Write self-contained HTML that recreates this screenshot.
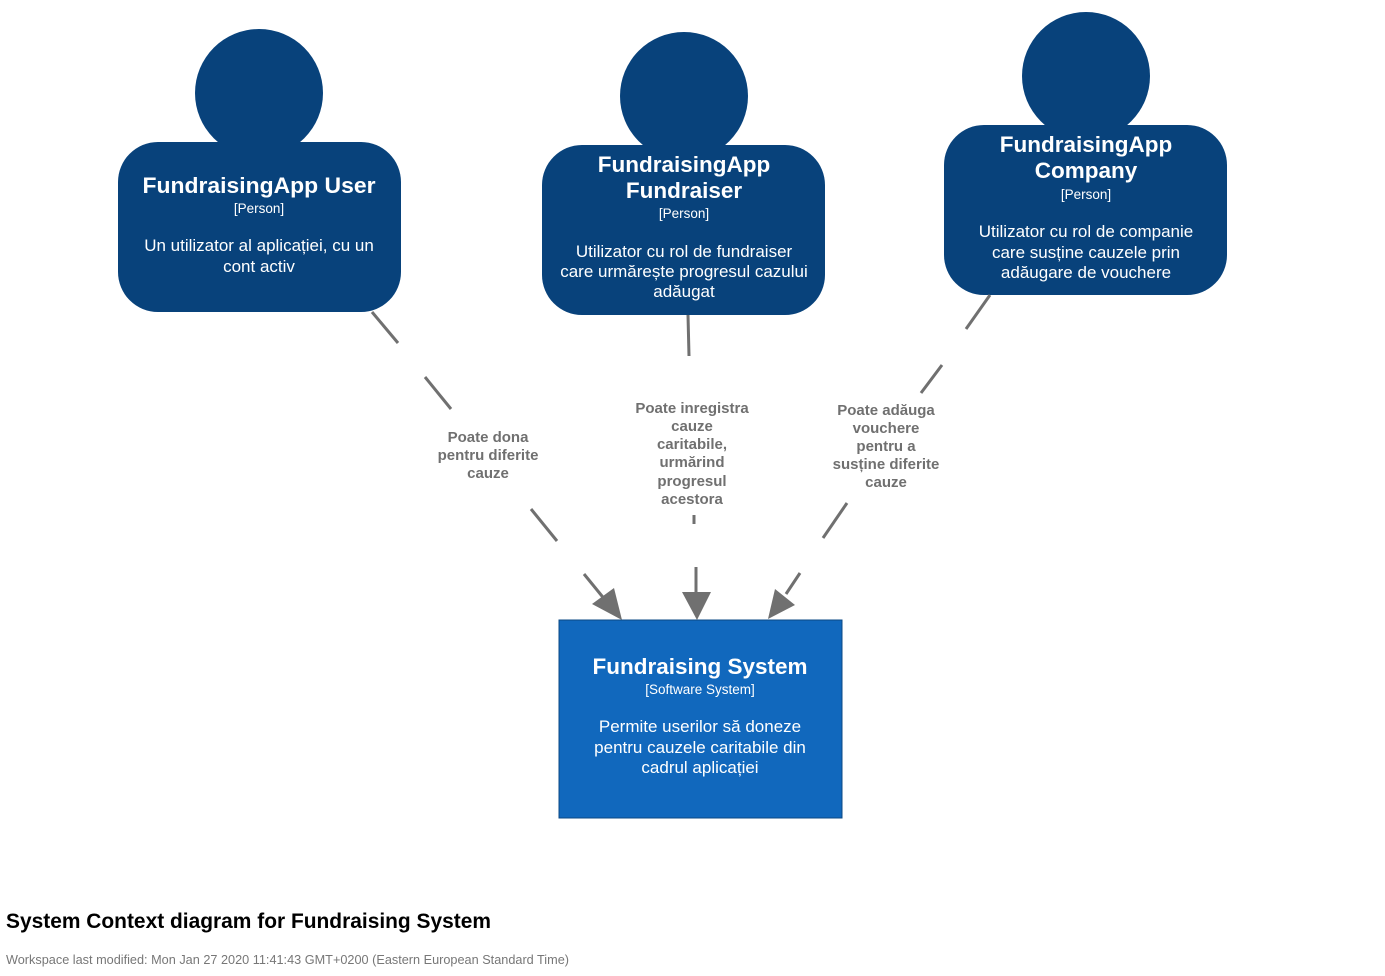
<!DOCTYPE html>
<html><head><meta charset="utf-8"><style>
body{margin:0;background:#fff;width:1385px;height:976px;overflow:hidden}
svg{display:block}
.t{font-family:"Liberation Sans","DejaVu Sans",sans-serif}
</style></head><body>
<svg width="1385" height="976" viewBox="0 0 1385 976" xmlns="http://www.w3.org/2000/svg" class="t">
<g fill="#08427b">
<circle cx="259" cy="93" r="64"/>
<rect x="118" y="142" width="283" height="170" rx="40"/>
<circle cx="684" cy="96" r="64"/>
<rect x="542" y="145" width="283" height="170" rx="40"/>
<circle cx="1086" cy="76" r="64"/>
<rect x="944" y="125" width="283" height="170" rx="40"/>
</g>
<rect x="559" y="620" width="283" height="198" fill="#1168bd" stroke="#0b4884" stroke-width="1"/>
<g fill="#fff" text-anchor="middle">
<text x="259" y="193" font-size="22.5" font-weight="bold" textLength="233" lengthAdjust="spacingAndGlyphs">FundraisingApp User</text>
<text x="259" y="213" font-size="13.5">[Person]</text>
<text x="259" y="251" font-size="17">Un utilizator al aplicației, cu un</text>
<text x="259" y="272" font-size="17">cont activ</text>
<text x="684" y="172" font-size="22.5" font-weight="bold">FundraisingApp</text>
<text x="684" y="198" font-size="22.5" font-weight="bold">Fundraiser</text>
<text x="684" y="218" font-size="13.5">[Person]</text>
<text x="684" y="257" font-size="17">Utilizator cu rol de fundraiser</text>
<text x="684" y="277" font-size="17">care urmărește progresul cazului</text>
<text x="684" y="297" font-size="17">adăugat</text>
<text x="1086" y="152" font-size="22.5" font-weight="bold">FundraisingApp</text>
<text x="1086" y="178" font-size="22.5" font-weight="bold">Company</text>
<text x="1086" y="199" font-size="13.5">[Person]</text>
<text x="1086" y="237" font-size="17">Utilizator cu rol de companie</text>
<text x="1086" y="258" font-size="17">care susține cauzele prin</text>
<text x="1086" y="278" font-size="17">adăugare de vouchere</text>
<text x="700" y="674" font-size="22.5" font-weight="bold">Fundraising System</text>
<text x="700" y="694" font-size="13.5">[Software System]</text>
<text x="700" y="732" font-size="17">Permite userilor să doneze</text>
<text x="700" y="753" font-size="17">pentru cauzele caritabile din</text>
<text x="700" y="773" font-size="17">cadrul aplicației</text>
</g>
<g stroke="#707070" stroke-width="3" fill="none">
<line x1="372" y1="312" x2="398" y2="343"/>
<line x1="425" y1="377" x2="451" y2="409"/>
<line x1="531" y1="509" x2="557" y2="541"/>
<line x1="584" y1="574" x2="606" y2="601"/>
<line x1="688" y1="315" x2="689" y2="356"/>
<line x1="694" y1="515" x2="694" y2="524"/>
<line x1="696" y1="567" x2="696" y2="595"/>
<line x1="990" y1="295" x2="966" y2="329"/>
<line x1="942" y1="365" x2="921" y2="393"/>
<line x1="847" y1="503" x2="823" y2="538"/>
<line x1="800" y1="573" x2="786" y2="594"/>
</g>
<g fill="#707070">
<polygon points="622,620 592,604 614,588"/>
<polygon points="697,620 682,592 711,592"/>
<polygon points="768,619 795,605 775,589"/>
</g>
<g fill="#707070" font-size="15" font-weight="bold" text-anchor="middle">
<text x="488" y="442">Poate dona</text>
<text x="488" y="460">pentru diferite</text>
<text x="488" y="478">cauze</text>
<text x="692" y="413">Poate inregistra</text>
<text x="692" y="431">cauze</text>
<text x="692" y="449">caritabile,</text>
<text x="692" y="467">urmărind</text>
<text x="692" y="486">progresul</text>
<text x="692" y="504">acestora</text>
<text x="886" y="415">Poate adăuga</text>
<text x="886" y="433">vouchere</text>
<text x="886" y="451">pentru a</text>
<text x="886" y="469">susține diferite</text>
<text x="886" y="487">cauze</text>
</g>
<text x="6" y="928" font-size="21" font-weight="bold" fill="#000" textLength="485" lengthAdjust="spacingAndGlyphs">System Context diagram for Fundraising System</text>
<text x="6" y="964" font-size="12.5" fill="#777" textLength="563" lengthAdjust="spacingAndGlyphs">Workspace last modified: Mon Jan 27 2020 11:41:43 GMT+0200 (Eastern European Standard Time)</text>
</svg>
</body></html>
